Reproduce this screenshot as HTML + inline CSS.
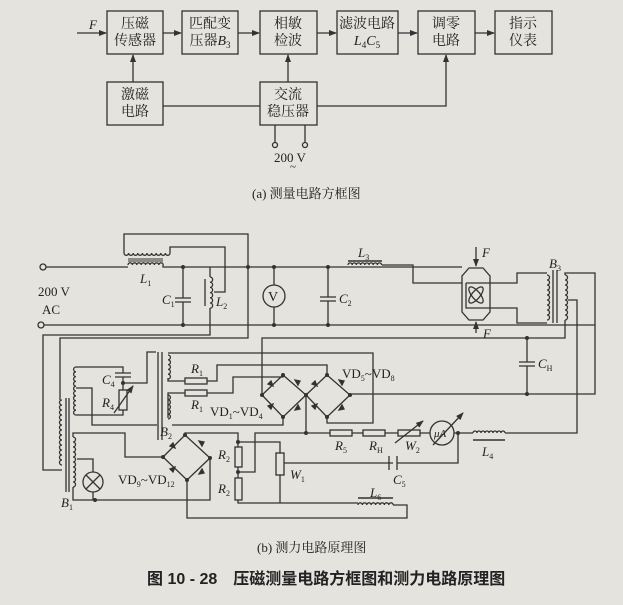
<!DOCTYPE html>
<html><head><meta charset="utf-8">
<style>
html,body{margin:0;padding:0;background:#e5e3dd;}
svg{display:block;}
text{font-family:"Liberation Serif","Noto Serif CJK SC",serif;fill:#222;}
.cj{font-family:"Liberation Serif","Noto Serif CJK SC",serif;}
.cb{font-family:"Liberation Sans","Noto Sans CJK SC",sans-serif;}
</style></head>
<body>
<svg width="623" height="605" viewBox="0 0 623 605" xmlns="http://www.w3.org/2000/svg">
<rect width="623" height="605" fill="#e5e3dd"/>
<defs>
<marker id="ar" markerWidth="8" markerHeight="6" refX="7" refY="3" orient="auto" markerUnits="userSpaceOnUse">
<path d="M0,0 L8,3 L0,6 z" fill="#333"/></marker>
</defs>
<g stroke="#333" stroke-width="1.3" fill="none">
<rect x="107" y="11" width="56" height="43"/>
<rect x="182" y="11" width="56" height="43"/>
<rect x="260" y="11" width="57" height="43"/>
<rect x="337" y="11" width="61" height="43"/>
<rect x="418" y="11" width="57" height="43"/>
<rect x="495" y="11" width="57" height="43"/>
<rect x="107" y="82" width="56" height="43"/>
<rect x="260" y="82" width="57" height="43"/>
<path d="M77,33H106" marker-end="url(#ar)"/>
<path d="M163,33H181" marker-end="url(#ar)"/>
<path d="M238,33H259" marker-end="url(#ar)"/>
<path d="M317,33H336" marker-end="url(#ar)"/>
<path d="M398,33H417" marker-end="url(#ar)"/>
<path d="M475,33H494" marker-end="url(#ar)"/>
<path d="M133,82V55" marker-end="url(#ar)"/>
<path d="M288,82V55" marker-end="url(#ar)"/>
<path d="M163,106H260"/>
<path d="M317,106H446V55" marker-end="url(#ar)"/>
<path d="M275,125V142M305,125V142"/>
<circle cx="275" cy="145" r="2.5"/><circle cx="305" cy="145" r="2.5"/>

<circle cx="43" cy="267" r="3"/><circle cx="41" cy="325" r="3"/>
<path d="M46,267H128"/>
<path d="M128,265 a2.2,2.2 0 0 1 4.4,0 a2.2,2.2 0 0 1 4.4,0 a2.2,2.2 0 0 1 4.4,0 a2.2,2.2 0 0 1 4.4,0 a2.2,2.2 0 0 1 4.4,0 a2.2,2.2 0 0 1 4.4,0 a2.2,2.2 0 0 1 4.4,0 a2.2,2.2 0 0 1 4.4,0"/>
<path d="M128,261H163M128,259H163" stroke-width="1"/>
<path d="M163,265V267H462"/>
<path d="M124,253 a2.3,2.3 0 0 0 4.6,0 a2.3,2.3 0 0 0 4.6,0 a2.3,2.3 0 0 0 4.6,0 a2.3,2.3 0 0 0 4.6,0 a2.3,2.3 0 0 0 4.6,0 a2.3,2.3 0 0 0 4.6,0 a2.3,2.3 0 0 0 4.6,0 a2.3,2.3 0 0 0 4.6,0 a2.3,2.3 0 0 0 4.6,0 a2.3,2.3 0 0 0 4.6,0"/>
<path d="M124,253V234H248V338H60V400"/>
<path d="M170,253V247H225V292H214"/>
<path d="M183,267V298M175,298H191M175,302H191M183,302V325"/>
<path d="M210,277 a2.6,2.6 0 0 1 0,5.2 a2.6,2.6 0 0 1 0,5.2 a2.6,2.6 0 0 1 0,5.2 a2.6,2.6 0 0 1 0,5.2 a2.6,2.6 0 0 1 0,5.2 a2.6,2.6 0 0 1 0,5.2"/>
<path d="M205,279V306"/>
<path d="M210,267V277M210,308V335H43V470H62"/>
<path d="M44,325H595"/>
<path d="M274,267V285M274,307V325"/>
<circle cx="274" cy="296" r="11"/>
<path d="M328,267V297M320,297H336M320,301H336M328,301V325"/>
<path d="M348,265 a2.1,2.1 0 0 1 4.2,0 a2.1,2.1 0 0 1 4.2,0 a2.1,2.1 0 0 1 4.2,0 a2.1,2.1 0 0 1 4.2,0 a2.1,2.1 0 0 1 4.2,0 a2.1,2.1 0 0 1 4.2,0 a2.1,2.1 0 0 1 4.2,0 a2.1,2.1 0 0 1 4.2,0"/>
<path d="M348,261H382" stroke-width="1.6"/>
<path d="M382,265H413V283H462"/>
<path d="M469,268H483L490,276V312L483,320H469L462,312V276Z"/>
<path d="M466,283H490M466,283V308H490"/>
<path d="M476,247V266" marker-end="url(#ar)"/>
<path d="M476,333V322" marker-end="url(#ar)"/>
<ellipse cx="476" cy="295" rx="4" ry="10" transform="rotate(40 476 295)"/>
<ellipse cx="476" cy="295" rx="4" ry="10" transform="rotate(-40 476 295)"/>
<path d="M490,283H517V273H547"/>
<path d="M490,308H517V323H547"/>
<path d="M547,275 a2.5,2.5 0 0 1 0,5 a2.5,2.5 0 0 1 0,5 a2.5,2.5 0 0 1 0,5 a2.5,2.5 0 0 1 0,5 a2.5,2.5 0 0 1 0,5 a2.5,2.5 0 0 1 0,5 a2.5,2.5 0 0 1 0,5 a2.5,2.5 0 0 1 0,5 a2.5,2.5 0 0 1 0,5"/>
<path d="M553,270V323M557,270V323"/>
<path d="M565,275 a2.5,2.5 0 0 1 0,5 a2.5,2.5 0 0 1 0,5 a2.5,2.5 0 0 1 0,5 a2.5,2.5 0 0 1 0,5 a2.5,2.5 0 0 1 0,5 a2.5,2.5 0 0 1 0,5 a2.5,2.5 0 0 1 0,5 a2.5,2.5 0 0 1 0,5 a2.5,2.5 0 0 1 0,5"/>
<path d="M565,275V273H595V394H350"/>
<path d="M565,320V338H262V395"/>
<path d="M568,300H577V433H505"/>
<path d="M527,338V362M519,362H535M519,366H535M527,366V394"/>
<path d="M473,433 a2,2 0 0 1 4,0 a2,2 0 0 1 4,0 a2,2 0 0 1 4,0 a2,2 0 0 1 4,0 a2,2 0 0 1 4,0 a2,2 0 0 1 4,0 a2,2 0 0 1 4,0 a2,2 0 0 1 4,0"/>
<path d="M473,440H505" stroke-width="1.6"/>
<path d="M473,433H454"/>
<path d="M262,395L283,375L306,395L283,417Z"/>
<path d="M306,395L327,375L350,395L327,417Z"/>
<path d="M268,384l5,2-2-5zM295,380l3,5 2-4zM268,406l5-2-2,5zM295,410l3-5 2,4zM312,384l5,2-2-5zM339,380l3,5 2-4zM312,406l5-2-2,5zM339,410l3-5 2,4z" fill="#333"/>
<path d="M327,375V365H217V381H207"/>
<path d="M283,375V377H233V393H207"/>
<path d="M168,353H373V423H327V417"/>
<path d="M283,417V425H172"/>
<path d="M306,395V433"/>
<rect x="185" y="378" width="22" height="6"/>
<rect x="185" y="390" width="22" height="6"/>
<path d="M168,378V381H185M168,418V393H185"/>
<path d="M168,355 a2.4,2.4 0 0 1 0,4.8 a2.4,2.4 0 0 1 0,4.8 a2.4,2.4 0 0 1 0,4.8 a2.4,2.4 0 0 1 0,4.8 a2.4,2.4 0 0 1 0,4.8"/>
<path d="M168,395 a2.4,2.4 0 0 1 0,4.8 a2.4,2.4 0 0 1 0,4.8 a2.4,2.4 0 0 1 0,4.8 a2.4,2.4 0 0 1 0,4.8 a2.4,2.4 0 0 1 0,4.8"/>
<path d="M158,352V440M162,352V440"/>
<path d="M76,367 a2.4,2.4 0 0 0 0,4.8 a2.4,2.4 0 0 0 0,4.8 a2.4,2.4 0 0 0 0,4.8 a2.4,2.4 0 0 0 0,4.8 a2.4,2.4 0 0 0 0,4.8 a2.4,2.4 0 0 0 0,4.8 a2.4,2.4 0 0 0 0,4.8 a2.4,2.4 0 0 0 0,4.8 a2.4,2.4 0 0 0 0,4.8 a2.4,2.4 0 0 0 0,4.8"/>
<path d="M76,367H123V373M115,373H131M115,377H131M123,377V390"/>
<rect x="119" y="390" width="8" height="20"/>
<path d="M114,413L133,386" marker-end="url(#ar)"/>
<path d="M123,410V415H76"/>
<path d="M123,383H147V352H156"/>
<path d="M76,388H92V425H157"/>
<path d="M62,400 a2.5,2.5 0 0 0 0,5 a2.5,2.5 0 0 0 0,5 a2.5,2.5 0 0 0 0,5 a2.5,2.5 0 0 0 0,5 a2.5,2.5 0 0 0 0,5 a2.5,2.5 0 0 0 0,5 a2.5,2.5 0 0 0 0,5 a2.5,2.5 0 0 0 0,5 a2.5,2.5 0 0 0 0,5 a2.5,2.5 0 0 0 0,5 a2.5,2.5 0 0 0 0,5 a2.5,2.5 0 0 0 0,5 a2.5,2.5 0 0 0 0,5"/>
<path d="M66,398V492M69,398V492"/>
<path d="M73,437 a2.5,2.5 0 0 1 0,5 a2.5,2.5 0 0 1 0,5 a2.5,2.5 0 0 1 0,5 a2.5,2.5 0 0 1 0,5 a2.5,2.5 0 0 1 0,5 a2.5,2.5 0 0 1 0,5 a2.5,2.5 0 0 1 0,5 a2.5,2.5 0 0 1 0,5 a2.5,2.5 0 0 1 0,5 a2.5,2.5 0 0 1 0,5"/>
<path d="M73,437V433H125V457H163"/>
<path d="M73,487V500H210V458"/>
<path d="M77,459H93V472M93,492V500"/>
<circle cx="93" cy="482" r="10"/>
<path d="M86,475L100,489M100,475L86,489"/>
<path d="M163,457L185,435L210,458L187,480Z"/>
<path d="M170,446l5,2-2-5zM199,441l3,5 2-4zM170,469l5-2-2,5zM199,474l3-5 2,4z" fill="#333"/>
<path d="M185,435V433H238V442"/>
<path d="M187,480V518H407V505H393"/>
<rect x="235" y="447" width="7" height="20"/>
<rect x="235" y="478" width="7" height="22"/>
<path d="M238,442V447M238,467V478M238,500V503H358"/>
<path d="M238,442H280V453M280,475V503"/>
<rect x="276" y="453" width="8" height="22"/>
<path d="M238,472H255V433H330"/>
<path d="M358,505 a2.2,2.2 0 0 1 4.4,0 a2.2,2.2 0 0 1 4.4,0 a2.2,2.2 0 0 1 4.4,0 a2.2,2.2 0 0 1 4.4,0 a2.2,2.2 0 0 1 4.4,0 a2.2,2.2 0 0 1 4.4,0 a2.2,2.2 0 0 1 4.4,0 a2.2,2.2 0 0 1 4.4,0"/>
<path d="M358,498H393" stroke-width="1.6"/>
<path d="M284,463H393M389,456V470M397,456V470M397,463H458V433"/>
<rect x="330" y="430" width="22" height="6"/>
<rect x="363" y="430" width="22" height="6"/>
<rect x="398" y="430" width="22" height="6"/>
<path d="M352,433H363M385,433H398M420,433H430"/>
<circle cx="442" cy="433" r="12"/>
<path d="M395,443L423,421" marker-end="url(#ar)"/>
<path d="M433,445L463,413" marker-end="url(#ar)"/>
</g>
<g fill="#333">
<circle cx="183" cy="267" r="2"/><circle cx="183" cy="325" r="2"/>
<circle cx="248" cy="267" r="2"/><circle cx="274" cy="267" r="2"/><circle cx="274" cy="325" r="2"/>
<circle cx="328" cy="267" r="2"/><circle cx="328" cy="325" r="2"/>
<circle cx="527" cy="338" r="2"/><circle cx="527" cy="394" r="2"/>
<circle cx="262" cy="395" r="2"/><circle cx="306" cy="395" r="2"/><circle cx="350" cy="395" r="2"/>
<circle cx="283" cy="375" r="2"/><circle cx="327" cy="375" r="2"/><circle cx="283" cy="417" r="2"/><circle cx="327" cy="417" r="2"/>
<circle cx="306" cy="433" r="2"/><circle cx="458" cy="433" r="2"/><circle cx="123" cy="383" r="2"/>
<circle cx="238" cy="442" r="2"/><circle cx="238" cy="472" r="2"/><circle cx="95" cy="500" r="2"/>
<circle cx="185" cy="435" r="2"/><circle cx="210" cy="458" r="2"/><circle cx="163" cy="457" r="2"/><circle cx="187" cy="480" r="2"/>
</g>
<g font-size="14" text-anchor="middle" class="cj">
<text x="135" y="28">压磁</text><text x="135" y="45">传感器</text>
<text x="210" y="28">匹配变</text><text x="210" y="45">压器<tspan font-style="italic">B</tspan><tspan font-size="9" dy="3">3</tspan></text>
<text x="288" y="28">相敏</text><text x="288" y="45">检波</text>
<text x="367" y="28">滤波电路</text>
<text x="367" y="45" font-style="italic">L<tspan font-size="9" dy="3" font-style="normal">4</tspan><tspan dy="-3">C</tspan><tspan font-size="9" dy="3" font-style="normal">5</tspan></text>
<text x="446" y="28">调零</text><text x="446" y="45">电路</text>
<text x="523" y="28">指示</text><text x="523" y="45">仪表</text>
<text x="135" y="99">激磁</text><text x="135" y="116">电路</text>
<text x="288" y="99">交流</text><text x="288" y="116">稳压器</text>
<text x="290" y="162" font-size="13">200 V</text>
<text x="293" y="170" font-size="11">~</text>
</g>
<text x="89" y="29" font-size="13" font-style="italic">F</text>
<text x="252" y="198" font-size="13" class="cj">(a) 测量电路方框图</text>
<g font-size="13">
<text x="140" y="283" font-style="italic">L<tspan font-size="8" dy="3" font-style="normal">1</tspan></text>
<text x="216" y="306" font-style="italic">L<tspan font-size="8" dy="3" font-style="normal">2</tspan></text>
<text x="162" y="304" font-style="italic">C<tspan font-size="8" dy="3" font-style="normal">1</tspan></text>
<text x="38" y="296">200 V</text>
<text x="42" y="314">AC</text>
<text x="358" y="257" font-style="italic">L<tspan font-size="8" dy="3" font-style="normal">3</tspan></text>
<text x="339" y="303" font-style="italic">C<tspan font-size="8" dy="3" font-style="normal">2</tspan></text>
<text x="268" y="301" font-size="14">V</text>
<text x="482" y="257" font-style="italic">F</text>
<text x="483" y="338" font-style="italic">F</text>
<text x="549" y="268" font-style="italic">B<tspan font-size="8" dy="3" font-style="normal">3</tspan></text>
<text x="538" y="368" font-style="italic">C<tspan font-size="8" dy="3" font-style="normal">H</tspan></text>
<text x="102" y="384" font-style="italic">C<tspan font-size="8" dy="3" font-style="normal">4</tspan></text>
<text x="102" y="407" font-style="italic">R<tspan font-size="8" dy="3" font-style="normal">4</tspan></text>
<text x="191" y="373" font-style="italic">R<tspan font-size="8" dy="3" font-style="normal">1</tspan></text>
<text x="191" y="409" font-style="italic">R<tspan font-size="8" dy="3" font-style="normal">1</tspan></text>
<text x="210" y="416">VD<tspan font-size="8" dy="3">1</tspan><tspan dy="-3">~VD</tspan><tspan font-size="8" dy="3">4</tspan></text>
<text x="342" y="378">VD<tspan font-size="8" dy="3">5</tspan><tspan dy="-3">~VD</tspan><tspan font-size="8" dy="3">8</tspan></text>
<text x="118" y="484">VD<tspan font-size="8" dy="3">9</tspan><tspan dy="-3">~VD</tspan><tspan font-size="8" dy="3">12</tspan></text>
<text x="160" y="436" font-style="italic">B<tspan font-size="8" dy="3" font-style="normal">2</tspan></text>
<text x="61" y="507" font-style="italic">B<tspan font-size="8" dy="3" font-style="normal">1</tspan></text>
<text x="218" y="459" font-style="italic">R<tspan font-size="8" dy="3" font-style="normal">2</tspan></text>
<text x="218" y="493" font-style="italic">R<tspan font-size="8" dy="3" font-style="normal">2</tspan></text>
<text x="290" y="479" font-style="italic">W<tspan font-size="8" dy="3" font-style="normal">1</tspan></text>
<text x="393" y="484" font-style="italic">C<tspan font-size="8" dy="3" font-style="normal">5</tspan></text>
<text x="370" y="497" font-style="italic">L<tspan font-size="8" dy="3" font-style="normal">6</tspan></text>
<text x="335" y="450" font-style="italic">R<tspan font-size="8" dy="3" font-style="normal">5</tspan></text>
<text x="369" y="450" font-style="italic">R<tspan font-size="8" dy="3" font-style="normal">H</tspan></text>
<text x="405" y="450" font-style="italic">W<tspan font-size="8" dy="3" font-style="normal">2</tspan></text>
<text x="482" y="456" font-style="italic">L<tspan font-size="8" dy="3" font-style="normal">4</tspan></text>
<text x="434" y="437" font-size="11" font-style="italic">μA</text>
</g>
<text x="257" y="552" font-size="13" class="cj">(b) 测力电路原理图</text>
<text x="147" y="584" font-size="16" font-weight="bold" class="cb">图 10 - 28　压磁测量电路方框图和测力电路原理图</text>
</svg>
</body></html>
